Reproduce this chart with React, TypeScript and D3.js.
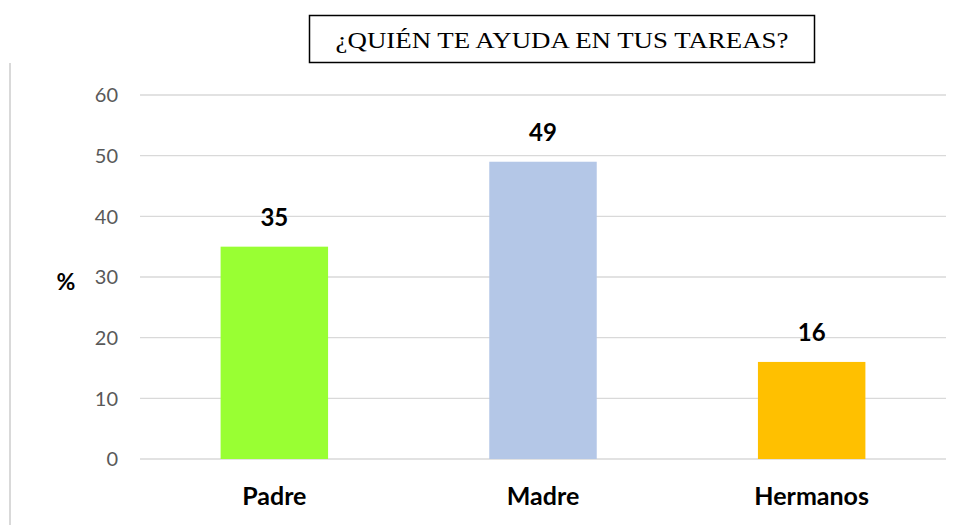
import React from "react";
import * as d3 from "d3";

const categories = ["Padre", "Madre", "Hermanos"];
const values = [35, 49, 16];
const colors = ["#99ff33", "#b4c7e7", "#ffc000"];
const yTicks = [0, 10, 20, 30, 40, 50, 60];
const title = "¿QUIÉN TE AYUDA EN TUS TAREAS?";
const yLabel = "%";

const W = 960;
const H = 525;
const plot = { left: 140, right: 946, top: 95, bottom: 459 };

export default function App() {
  const x = d3
    .scaleBand<string>()
    .domain(categories)
    .range([plot.left, plot.right])
    .padding(0);
  const y = d3.scaleLinear().domain([0, 60]).range([plot.bottom, plot.top]);
  const barW = x.step() * 0.4;
  const font = "Lato, 'Open Sans', sans-serif";

  return (
    <svg
      width={W}
      height={H}
      style={{ position: "absolute", left: 0, top: 0, background: "#fff" }}
    >
      <rect x={0} y={0} width={W} height={H} fill="#fff" />
      <line x1={10} x2={10} y1={63} y2={H} stroke="#d9d9d9" strokeWidth={2} />
      {yTicks.map((t) => (
        <g key={t}>
          <line
            x1={plot.left}
            x2={plot.right}
            y1={y(t)}
            y2={y(t)}
            stroke="#d9d9d9"
            strokeWidth={1.3}
          />
          <text
            x={118}
            y={y(t)}
            dy="0.36em"
            textAnchor="end"
            fontFamily={font}
            fontSize={20}
            fill="#595959"
          >
            {t}
          </text>
        </g>
      ))}
      <text
        x={66}
        y={282}
        dy="0.36em"
        textAnchor="middle"
        fontFamily={font}
        fontWeight="bold"
        fontSize={23}
        fill="#000"
      >
        {yLabel}
      </text>
      {categories.map((c, i) => {
        const cx = (x(c) as number) + x.bandwidth() / 2;
        return (
          <g key={c}>
            <rect
              x={cx - barW / 2}
              y={y(values[i])}
              width={barW}
              height={y(0) - y(values[i])}
              fill={colors[i]}
            />
            <text
              x={cx}
              y={y(values[i]) - 21}
              textAnchor="middle"
              fontFamily={font}
              fontWeight="bold"
              fontSize={24}
              fill="#000"
            >
              {values[i]}
            </text>
            <text
              x={cx}
              y={505}
              textAnchor="middle"
              fontFamily={font}
              fontWeight="bold"
              fontSize={25}
              fill="#000"
            >
              {c}
            </text>
          </g>
        );
      })}
      <rect
        x={309.5}
        y={15.5}
        width={505}
        height={47}
        fill="#fff"
        stroke="#000"
        strokeWidth={1.5}
      />
      <g transform="translate(562,48) scale(1.12,1)">
        <text
          x={0}
          y={0}
          textAnchor="middle"
          fontFamily="'Liberation Serif', 'Times New Roman', serif"
          fontSize={24}
          fill="#000"
        >
          {title}
        </text>
      </g>
    </svg>
  );
}
